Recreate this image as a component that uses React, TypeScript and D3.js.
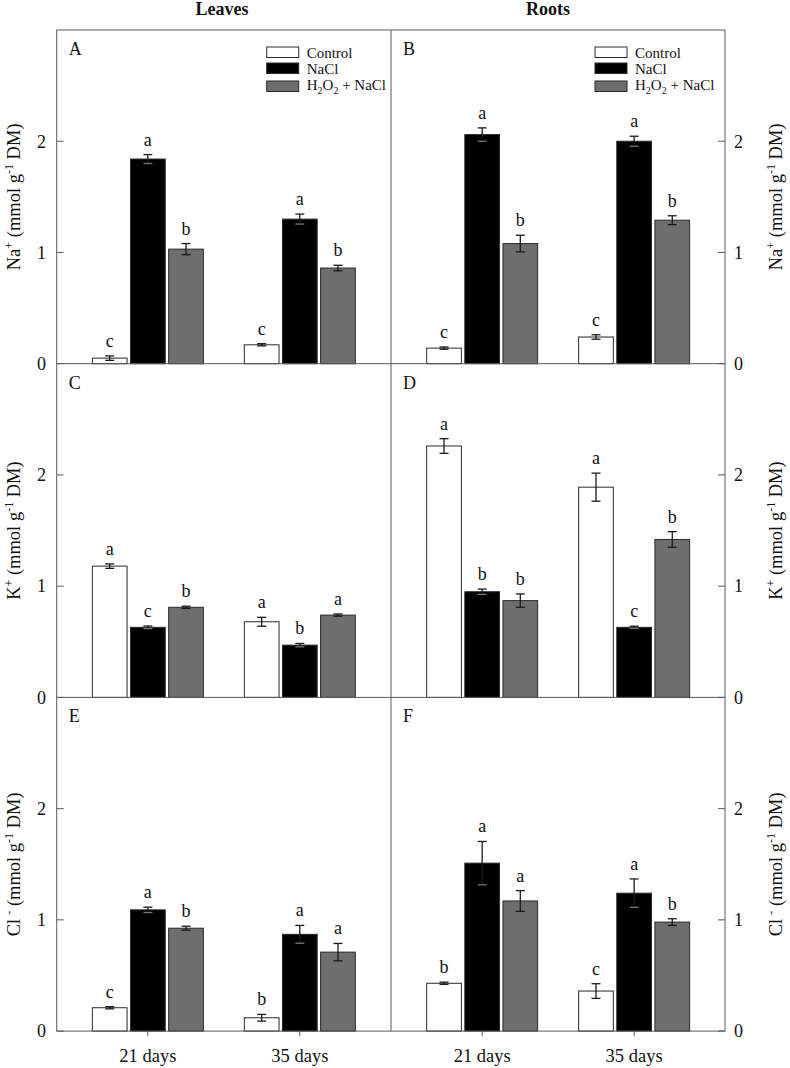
import React from "react";
import * as d3 from "d3";

const days = ["21 days", "35 days"];
const treatments = ["Control", "NaCl", "H2O2 + NaCl"];
const treatmentFills = ["#ffffff", "#000000", "#6e6e6e"];
const yTicks = [0, 1, 2];
const columnTitles = ["Leaves", "Roots"];
const panelLetters = ["A", "B", "C", "D", "E", "F"];
const ions = ["Na", "K", "Cl"];
const ionCharges = ["+", "+", "-"];

// values ordered: 21d [Control, NaCl, H2O2+NaCl], 35d [Control, NaCl, H2O2+NaCl]
const naLeavesMean = [0.05, 1.84, 1.03, 0.17, 1.3, 0.86];
const naLeavesErr = [0.02, 0.04, 0.05, 0.01, 0.045, 0.025];
const naLeavesLetters = ["c", "a", "b", "c", "a", "b"];

const naRootsMean = [0.14, 2.06, 1.08, 0.24, 2.0, 1.29];
const naRootsErr = [0.01, 0.06, 0.075, 0.02, 0.045, 0.04];
const naRootsLetters = ["c", "a", "b", "c", "a", "b"];

const kLeavesMean = [1.18, 0.63, 0.81, 0.68, 0.47, 0.74];
const kLeavesErr = [0.02, 0.012, 0.01, 0.04, 0.015, 0.01];
const kLeavesLetters = ["a", "c", "b", "a", "b", "a"];

const kRootsMean = [2.26, 0.95, 0.87, 1.89, 0.63, 1.42];
const kRootsErr = [0.066, 0.024, 0.06, 0.126, 0.01, 0.07];
const kRootsLetters = ["a", "b", "b", "a", "c", "b"];

const clLeavesMean = [0.21, 1.09, 0.925, 0.12, 0.87, 0.71];
const clLeavesErr = [0.01, 0.024, 0.018, 0.03, 0.08, 0.078];
const clLeavesLetters = ["c", "a", "b", "b", "a", "a"];

const clRootsMean = [0.43, 1.51, 1.17, 0.36, 1.24, 0.98];
const clRootsErr = [0.01, 0.195, 0.093, 0.066, 0.128, 0.03];
const clRootsLetters = ["b", "a", "a", "c", "a", "b"];

const panelMeans = [naLeavesMean, naRootsMean, kLeavesMean, kRootsMean, clLeavesMean, clRootsMean];
const panelErrs = [naLeavesErr, naRootsErr, kLeavesErr, kRootsErr, clLeavesErr, clRootsErr];
const panelSig = [naLeavesLetters, naRootsLetters, kLeavesLetters, kRootsLetters, clLeavesLetters, clRootsLetters];

const W = 790;
const H = 1068;
const LEFT = 56.7;
const MID = 391;
const RIGHT = 725;
const TOP = 30;
const ROW_H = 333.7;
const FONT = "'Liberation Serif', 'Times New Roman', serif";
const FRAME = "#5a5a5a";

export default function App() {
  const colX = [LEFT, MID];
  const panelW = MID - LEFT;
  const xOuter = d3.scalePoint<string>().domain(days).range([0, panelW]).padding(0.6);
  const xInner = d3.scaleBand<string>().domain(treatments).range([-55.5, 55.5]).paddingInner(0.09);
  const bw = xInner.bandwidth();
  const legendX = [210, 204];

  const panels = [];
  for (let row = 0; row < 3; row++) {
    const y0 = TOP + row * ROW_H;
    const y = d3.scaleLinear().domain([0, 3]).range([y0 + ROW_H, y0]);
    for (let col = 0; col < 2; col++) {
      const idx = row * 2 + col;
      const px = colX[col];
      const means = panelMeans[idx];
      const errs = panelErrs[idx];
      const sig = panelSig[idx];
      const items = [];
      days.forEach((d, di) => {
        treatments.forEach((t, ti) => {
          const k = di * 3 + ti;
          const m = means[k];
          const e = errs[k];
          const cx = px + (xOuter(d) as number) + (xInner(t) as number) + bw / 2;
          const x0 = px + (xOuter(d) as number) + (xInner(t) as number);
          items.push(
            <g key={`${d}-${t}`}>
              <rect x={x0} y={y(m)} width={bw} height={y(0) - y(m)} fill={treatmentFills[ti]} stroke="#2a2a2a" strokeWidth={1} />
              <line x1={cx} x2={cx} y1={y(m + e)} y2={y(m - e)} stroke="#1a1a1a" strokeWidth={1.3} />
              <line x1={cx - 4.5} x2={cx + 4.5} y1={y(m + e)} y2={y(m + e)} stroke="#1a1a1a" strokeWidth={1.3} />
              <line x1={cx - 4.5} x2={cx + 4.5} y1={y(m - e)} y2={y(m - e)} stroke={ti === 1 ? "#777" : "#1a1a1a"} strokeWidth={1.3} />
              <text x={cx} y={y(m + e) - 9} textAnchor="middle" fontSize={18} fontFamily={FONT} fill="#111">{sig[k]}</text>
            </g>
          );
        });
      });
      const tickEls = yTicks.map((v) => {
        if (col === 0) {
          return (
            <g key={`t${v}`}>
              <line x1={LEFT} x2={LEFT + 7} y1={y(v)} y2={y(v)} stroke={FRAME} strokeWidth={1} />
              <text x={46} y={y(v)} dy="0.35em" textAnchor="end" fontSize={18} fontFamily={FONT} fill="#111">{v}</text>
            </g>
          );
        }
        return (
          <g key={`t${v}`}>
            <line x1={RIGHT - 7} x2={RIGHT} y1={y(v)} y2={y(v)} stroke={FRAME} strokeWidth={1} />
            <text x={734} y={y(v)} dy="0.35em" textAnchor="start" fontSize={18} fontFamily={FONT} fill="#111">{v}</text>
          </g>
        );
      });
      const labX = col === 0 ? 20 : 782;
      const cy = y0 + ROW_H / 2;
      const label = (
        <text transform={`translate(${labX},${cy}) rotate(-90)`} textAnchor="middle" fontSize={18.5} fontFamily={FONT} fill="#111">
          <tspan>{ions[row]}</tspan>
          <tspan dy={-7} dx={row === 2 ? 4 : 0} fontSize={12}>{ionCharges[row]}</tspan>
          <tspan dy={7}> (mmol g</tspan>
          <tspan dy={-7} fontSize={12}>-1</tspan>
          <tspan dy={7}> DM)</tspan>
        </text>
      );
      let legend = null;
      if (row === 0) {
        const lx = px + legendX[col];
        const boxTops = [47, 63, 81];
        legend = (
          <g>
            {treatments.map((t, ti) => (
              <g key={t}>
                <rect x={lx} y={boxTops[ti]} width={32} height={10.5} fill={treatmentFills[ti]} stroke="#2a2a2a" strokeWidth={1} />
                {ti < 2 ? (
                  <text x={lx + 40} y={boxTops[ti] + 10.5} fontSize={15} fontFamily={FONT} fill="#111">{t}</text>
                ) : (
                  <text x={lx + 40} y={boxTops[ti] + 9} fontSize={15} fontFamily={FONT} fill="#111">
                    <tspan>H</tspan>
                    <tspan dy={4} fontSize={10}>2</tspan>
                    <tspan dy={-4}>O</tspan>
                    <tspan dy={4} fontSize={10}>2</tspan>
                    <tspan dy={-4}> + NaCl</tspan>
                  </text>
                )}
              </g>
            ))}
          </g>
        );
      }
      panels.push(
        <g key={`p${idx}`}>
          {items}
          {tickEls}
          {label}
          {legend}
          <text x={px + 12} y={y0 + 25} fontSize={18} fontFamily={FONT} fill="#111">{panelLetters[idx]}</text>
        </g>
      );
    }
  }

  const bottom = TOP + 3 * ROW_H;
  const xLabels = [];
  colX.forEach((px, ci) => {
    days.forEach((d) => {
      const cx = px + (xOuter(d) as number);
      xLabels.push(
        <g key={`${ci}-${d}`}>
          <line x1={cx} x2={cx} y1={bottom} y2={bottom + 5} stroke={FRAME} strokeWidth={1} />
          <text x={cx} y={1062} textAnchor="middle" fontSize={18.5} fontFamily={FONT} fill="#111">{d}</text>
        </g>
      );
    });
  });

  return (
    <svg width={W} height={H} style={{ position: "absolute", left: 0, top: 0, background: "#fff" }}>
      <rect x={0} y={0} width={W} height={H} fill="#fff" />
      {columnTitles.map((t, i) => (
        <text key={t} x={i === 0 ? 222 : 548} y={15} textAnchor="middle" fontSize={18} fontWeight="bold" fontFamily={FONT} fill="#111">{t}</text>
      ))}
      {panels}
      <rect x={LEFT} y={TOP} width={RIGHT - LEFT} height={3 * ROW_H} fill="none" stroke={FRAME} strokeWidth={1} />
      <line x1={MID} x2={MID} y1={TOP} y2={bottom} stroke={FRAME} strokeWidth={1} />
      <line x1={LEFT} x2={RIGHT} y1={TOP + ROW_H} y2={TOP + ROW_H} stroke={FRAME} strokeWidth={1} />
      <line x1={LEFT} x2={RIGHT} y1={TOP + 2 * ROW_H} y2={TOP + 2 * ROW_H} stroke={FRAME} strokeWidth={1} />
      {xLabels}
    </svg>
  );
}
